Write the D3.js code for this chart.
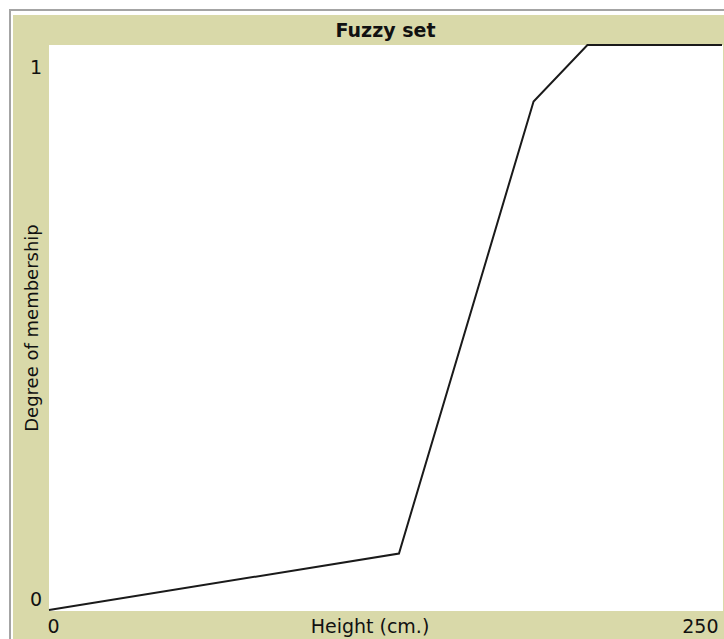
<!DOCTYPE html>
<html lang="en">
<head>
    <meta charset="UTF-8">
    <title>Fuzzy set</title>
    <script src="https://d3js.org/d3.v7.min.js"></script>
    <style>
        body { margin: 0; padding: 0; background: #fff; }
        svg text { font-family: "DejaVu Sans", sans-serif; fill: #111; }
    </style>
</head>
<body>
    <div id="chart"></div>
    <script>
        // membership curve
        const heights = [0, 130, 180, 200, 250];
        const membership = [0, 0.1, 0.9, 1, 1];
        const xTicks = [0, 250];
        const yTicks = [0, 1];
        const title = "Fuzzy set";
        const xLabel = "Height (cm.)";
        const yLabel = "Degree of membership";

        const W = 724, H = 639;
        const plot = {left: 49, top: 45, right: 722, bottom: 611};

        const svg = d3.select("#chart").append("svg")
            .attr("width", W)
            .attr("height", H);

        // frame + tan panel
        svg.append("rect")
            .attr("x", 10).attr("y", 10)
            .attr("width", W).attr("height", H)
            .attr("fill", "#fff")
            .attr("stroke", "#a4a4a4")
            .attr("stroke-width", 2);
        svg.append("rect")
            .attr("x", 13).attr("y", 15)
            .attr("width", W - 13).attr("height", H - 15)
            .attr("fill", "#d9d9a9");
        svg.append("rect")
            .attr("x", plot.left).attr("y", plot.top)
            .attr("width", plot.right + 1 - plot.left)
            .attr("height", plot.bottom - plot.top)
            .attr("fill", "#fff");

        const x = d3.scaleLinear().domain([0, 250]).range([plot.left, plot.right]);
        const y = d3.scaleLinear().domain([0, 1]).range([plot.bottom - 1, plot.top]);

        // x tick labels: first left aligned, last right aligned
        const xAxis = svg.append("g")
            .attr("transform", `translate(0,${plot.bottom})`)
            .call(d3.axisBottom(x).tickValues(xTicks).tickFormat(d3.format("d"))
                .tickSize(0).tickPadding(0));
        xAxis.select(".domain").remove();
        xAxis.selectAll(".tick text")
            .attr("font-size", 19)
            .attr("dy", null)
            .attr("y", 22)
            .attr("x", (d, i) => i === 0 ? -2 : -4)
            .attr("text-anchor", (d, i) => i === 0 ? "start" : "end");

        // y tick labels: top one hangs under the top edge, bottom one sits above
        const yAxis = svg.append("g")
            .attr("transform", `translate(${plot.left},0)`)
            .call(d3.axisLeft(y).tickValues(yTicks).tickFormat(d3.format("d"))
                .tickSize(0).tickPadding(7));
        yAxis.select(".domain").remove();
        yAxis.selectAll(".tick text")
            .attr("font-size", 19)
            .attr("dy", null)
            .attr("y", d => d === 1 ? 28 : -5);

        svg.append("text")
            .attr("x", (plot.left + plot.right) / 2)
            .attr("y", 37)
            .attr("text-anchor", "middle")
            .attr("font-size", 19)
            .attr("font-weight", "bold")
            .text(title);

        svg.append("text")
            .attr("x", 370)
            .attr("y", 633)
            .attr("text-anchor", "middle")
            .attr("font-size", 19)
            .text(xLabel);

        svg.append("text")
            .attr("transform", `translate(38,${(plot.top + plot.bottom) / 2}) rotate(-90)`)
            .attr("text-anchor", "middle")
            .attr("font-size", 18)
            .text(yLabel);

        // the membership line
        const pts = heights.map((h, i) => [h, membership[i]]);
        svg.append("path")
            .datum(pts)
            .attr("fill", "none")
            .attr("stroke", "#1a1a1a")
            .attr("stroke-width", 2)
            .attr("d", d3.line().x(d => x(d[0])).y(d => y(d[1])));
    </script>
</body>
</html>
